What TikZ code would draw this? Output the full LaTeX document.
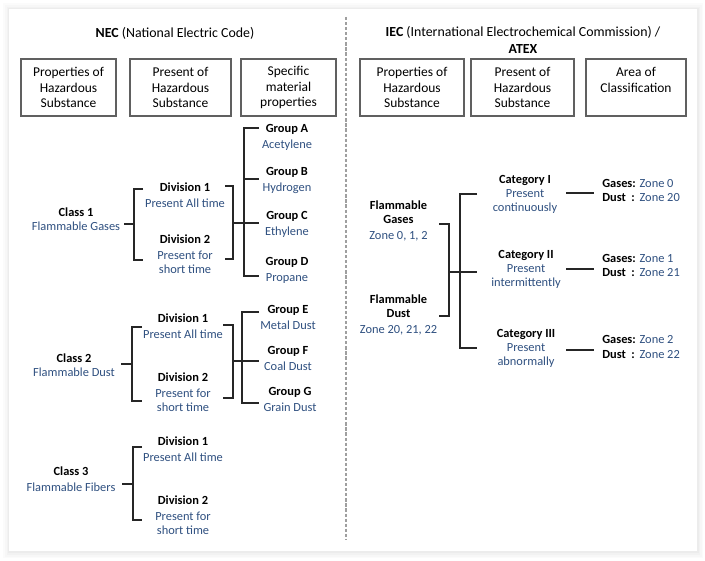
\documentclass[tikz,border=0pt]{standalone}
\usepackage{fontspec}
\setmainfont{Carlito}
\definecolor{tblue}{HTML}{2F5080}
\definecolor{boxgray}{HTML}{606060}
\newcommand{\nbold}[1]{\textcolor{black}{\bfseries #1}}
\begin{document}
\begin{tikzpicture}[x=0.75pt,y=-0.75pt,
  hbox/.style={draw=boxgray, line width=0.8pt, fill=white, align=center, inner sep=0pt,
    minimum height=42.75pt, font=\fontsize{10.1}{11.6}\selectfont},
  ttl/.style={align=center, inner sep=0pt, font=\fontsize{10.4}{12.8}\selectfont},
  tt/.style={align=center, inner sep=1.5pt, font=\fontsize{9.3}{10.5}\selectfont, text=tblue},
  zz/.style={anchor=west, inner sep=0pt, font=\fontsize{9.3}{11.2}\selectfont, text=tblue},
  conn/.style={draw=black!85, line width=0.9pt},
  divider/.style={draw=gray!75, line width=1.3pt, dash pattern=on 2.4pt off 1.4pt}]
\useasboundingbox (0,0) rectangle (705,560);
% background and panel with soft shadow
\fill[white] (0,0) rectangle (705,560);
\fill[gray!3] (3,3) rectangle (703,558);
\fill[gray!6] (5,5) rectangle (702,557);
\fill[gray!10] (7,7) rectangle (700,555);
\fill[gray!15] (8,8) rectangle (699,553);
\fill[white] (9,9) rectangle (697,551);
% divider
\coordinate (dvt) at (346,17);
\coordinate (dvb) at (346,539);
\draw[divider] (dvt) -- (dvb);
% titles
\node[ttl] (necT) at (175,33) {\textbf{NEC} (National Electric Code)};
\node[ttl] (iecT) at (523,40) {\textbf{IEC} (International Electrochemical Commission) /\\\textbf{ATEX}};
% header boxes
\node[hbox, minimum width=71.25pt] (lb1) at (68.5,87.5) {Properties of\\Hazardous\\Substance};
\node[hbox, minimum width=75.75pt] (lb2) at (180.5,87.5) {Present of\\Hazardous\\Substance};
\node[hbox, minimum width=71.25pt] (lb3) at (288.5,87.5) {Specific\\material\\properties};
\node[hbox, minimum width=78pt] (rb1) at (412,87.5) {Properties of\\Hazardous\\Substance};
\node[hbox, minimum width=77.25pt] (rb2) at (522.5,87.5) {Present of\\Hazardous\\Substance};
\node[hbox, minimum width=75pt] (rb3) at (636,87.5) {Area of\\Classification\\\mbox{}};
% ---------- NEC tree ----------
\node[tt] (c1) at (76,219) {\nbold{Class 1}\\Flammable Gases};
\node[tt] (d11) at (185,195) {\nbold{Division 1}\\[1.5pt]Present All time};
\node[tt] (d12) at (185,254) {\nbold{Division 2}\\[1.5pt]Present for\\short time};
\node[tt] (gA) at (287,137) {\nbold{Group A}\\[1.5pt]Acetylene};
\node[tt] (gB) at (287,180) {\nbold{Group B}\\[1.5pt]Hydrogen};
\node[tt] (gC) at (287,224) {\nbold{Group C}\\[1.5pt]Ethylene};
\node[tt] (gD) at (287,270) {\nbold{Group D}\\[1.5pt]Propane};
\node[tt] (c2) at (74,365) {\nbold{Class 2}\\Flammable Dust};
\node[tt] (d21) at (183,326) {\nbold{Division 1}\\[1.5pt]Present All time};
\node[tt] (d22) at (183,392) {\nbold{Division 2}\\[1.5pt]Present for\\short time};
\node[tt] (gE) at (288,317) {\nbold{Group E}\\[1.5pt]Metal Dust};
\node[tt] (gF) at (288,358) {\nbold{Group F}\\[1.5pt]Coal Dust};
\node[tt] (gG) at (290,399) {\nbold{Group G}\\[1.5pt]Grain Dust};
\node[tt] (c3) at (71,479) {\nbold{Class 3}\\[1.5pt]Flammable Fibers};
\node[tt] (d31) at (183,449) {\nbold{Division 1}\\[1.5pt]Present All time};
\node[tt] (d32) at (183,515) {\nbold{Division 2}\\[1.5pt]Present for\\short time};
% bracket coordinates, group 1
\coordinate (a1s) at (124,224); \coordinate (a1m) at (134,224);
\coordinate (a1t) at (143,189); \coordinate (a1b) at (143,260);
\coordinate (b1t) at (225,186); \coordinate (b1b) at (225,259);
\coordinate (b1m) at (233,223); \coordinate (g1m) at (244,223);
\coordinate (g1a) at (259,128); \coordinate (g1b) at (259,179);
\coordinate (g1c) at (259,223); \coordinate (g1d) at (259,276);
\draw[conn, line width=1.5pt] (a1s) -- (a1m);
\draw[conn] (a1t) -- (a1m |- a1t) -- (a1m |- a1b) -- (a1b);
\draw[conn] (b1t) -- (b1m |- b1t) -- (b1m |- b1b) -- (b1b);
\draw[conn] (b1m) -- (g1m);
\draw[conn] (g1a) -- (g1m |- g1a) -- (g1m |- g1d) -- (g1d);
\draw[conn] (g1m |- g1b) -- (g1b);
\draw[conn] (g1m) -- (g1c);
% group 2
\coordinate (a2s) at (121,364); \coordinate (a2m) at (132,364);
\coordinate (a2t) at (142,327); \coordinate (a2b) at (142,401);
\coordinate (b2t) at (223,325); \coordinate (b2b) at (223,398);
\coordinate (b2m) at (233,361); \coordinate (g2m) at (242,361);
\coordinate (g2e) at (259,312); \coordinate (g2f) at (259,361);
\coordinate (g2g) at (259,403);
\draw[conn] (a2s) -- (a2m);
\draw[conn] (a2t) -- (a2m |- a2t) -- (a2m |- a2b) -- (a2b);
\draw[conn] (b2t) -- (b2m |- b2t) -- (b2m |- b2b) -- (b2b);
\draw[conn, line width=1.5pt] (b2m) -- (g2m);
\draw[conn] (g2e) -- (g2m |- g2e) -- (g2m |- g2g) -- (g2g);
\draw[conn] (g2m) -- (g2f);
% group 3
\coordinate (a3s) at (122,484); \coordinate (a3m) at (133,484);
\coordinate (a3t) at (142,447); \coordinate (a3b) at (142,520);
\draw[conn] (a3s) -- (a3m);
\draw[conn] (a3t) -- (a3m |- a3t) -- (a3m |- a3b) -- (a3b);
% ---------- IEC tree ----------
\node[tt] (fg) at (398.5,221) {\nbold{Flammable}\\\nbold{Gases}\\[1.5pt]Zone 0, 1, 2};
\node[tt] (fd) at (398.5,315) {\nbold{Flammable}\\\nbold{Dust}\\[1.5pt]Zone 20, 21, 22};
\node[tt] (k1) at (525,194) {\nbold{Category I}\\Present\\continuously};
\node[tt] (k2) at (526,269) {\nbold{Category II}\\Present\\intermittently};
\node[tt] (k3) at (526,348) {\nbold{Category III}\\Present\\abnormally};
\node[zz] (z1) at (602,191.5) {\begin{tabular}{@{}l@{ }l@{}}\nbold{Gases:} & Zone 0\\\nbold{Dust\ \ :} & Zone 20\end{tabular}};
\node[zz] (z2) at (602,266.5) {\begin{tabular}{@{}l@{ }l@{}}\nbold{Gases:} & Zone 1\\\nbold{Dust\ \ :} & Zone 21\end{tabular}};
\node[zz] (z3) at (602,348) {\begin{tabular}{@{}l@{ }l@{}}\nbold{Gases:} & Zone 2\\\nbold{Dust\ \ :} & Zone 22\end{tabular}};
\coordinate (fgt) at (439,224); \coordinate (fdt) at (439,316);
\coordinate (fm) at (449,272); \coordinate (km) at (460,272);
\coordinate (k1t) at (477,194); \coordinate (k2t) at (477,272); \coordinate (k3t) at (477,348);
\draw[conn] (fgt) -- (fm |- fgt) -- (fm |- fdt) -- (fdt);
\draw[conn] (fm) -- (km);
\draw[conn] (k1t) -- (km |- k1t) -- (km |- k3t) -- (k3t);
\draw[conn] (km) -- (k2t);
\coordinate (k1e) at (566,193); \coordinate (z1w) at (594,193);
\coordinate (k2e) at (566,269); \coordinate (z2w) at (594,269);
\coordinate (k3e) at (566,350); \coordinate (z3w) at (594,350);
\draw[conn] (k1e) -- (z1w);
\draw[conn] (k2e) -- (z2w);
\draw[conn] (k3e) -- (z3w);
\end{tikzpicture}
\end{document}
